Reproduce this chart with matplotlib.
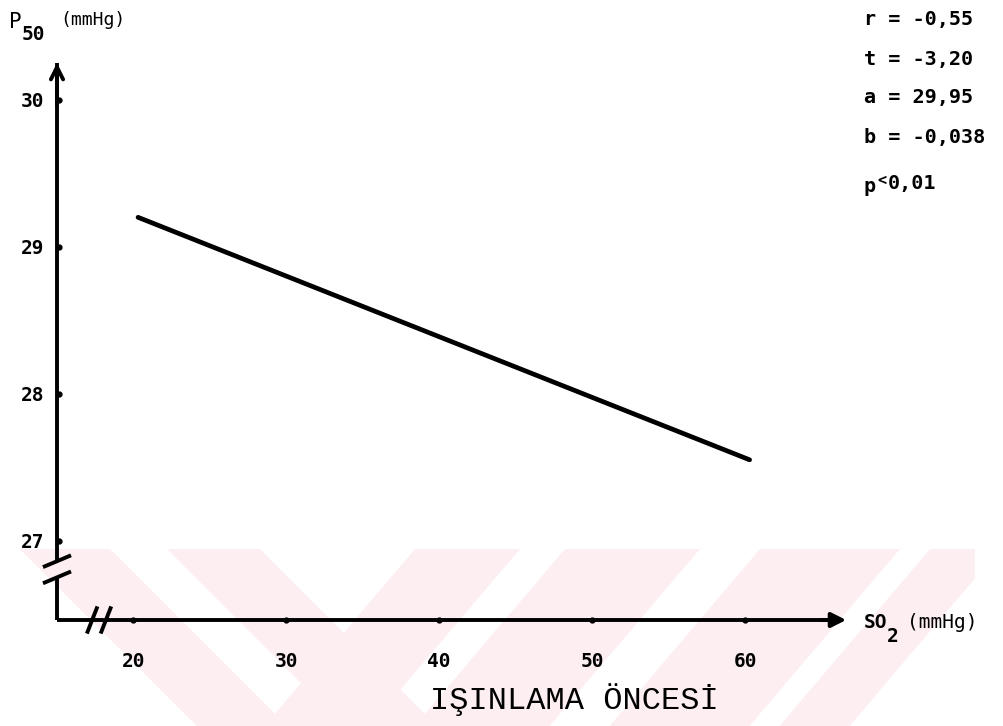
import matplotlib.pyplot as plt
from matplotlib.patches import Polygon, Rectangle

# regression line
so2 = [20.3, 60.3]
p50 = [29.2, 27.55]

xticks = [20, 30, 40, 50, 60]
yticks = [27, 28, 29, 30]

stats = ["r = -0,55", "t = -3,20", "a = 29,95", "b = -0,038"]
title = "IŞINLAMA ÖNCESİ"

W, H = 1004, 726
fig = plt.figure(figsize=(W / 100, H / 100), dpi=100)

# pale watermark stripes in the lower band (pixel coords -> figure)
pink = "#fdeef1"
clip = Rectangle((20 / W, 0), (975 - 20) / W, 1 - 549 / H,
                 transform=fig.transFigure, facecolor="none", edgecolor="none")
fig.add_artist(clip)
top, bot = 549, 726
hgt = bot - top
bands = [((20, 110), 1.0), ((167, 260), 1.0),
         ((415, 520), -0.85), ((565, 700), -0.85), ((760, 900), -0.85), ((930, 1000), -0.85)]
for (x0, x1), s in bands:
    pts = [(x0, top), (x1, top), (x1 + s * hgt, bot), (x0 + s * hgt, bot)]
    poly = Polygon([(px / W, 1 - py / H) for px, py in pts], closed=True,
                   transform=fig.transFigure, facecolor=pink, edgecolor="none", zorder=0)
    fig.add_artist(poly)
    poly.set_clip_path(clip)

ax = fig.add_axes([57 / W, 1 - 620 / H, (849 - 57) / W, (620 - 63) / H])
ax.set_facecolor("none")
x0, x1 = 15.0, 66.8
y0, y1 = 26.46, 30.25
ax.set_xlim(x0, x1)
ax.set_ylim(y0, y1)
for sp in ax.spines.values():
    sp.set_visible(False)

mono = "DejaVu Sans Mono"
ax.set_xticks(xticks)
ax.set_xticklabels([str(v) for v in xticks], family=mono, fontsize=14, fontweight="bold")
ax.set_yticks(yticks)
ax.set_yticklabels([str(v) for v in yticks], family=mono, fontsize=14, fontweight="bold")
ax.tick_params(axis="x", length=0, pad=23)
ax.tick_params(axis="y", length=0, pad=9)

lw = 2.8
# y axis with a break
ax.plot([x0, x0], [y0, 26.75], color="black", lw=lw, clip_on=False, solid_capstyle="butt")
ax.plot([x0, x0], [26.86, y1], color="black", lw=lw, clip_on=False, solid_capstyle="butt")
ax.annotate("", xy=(x0, y1 + 0.02), xytext=(x0, y1 - 0.3),
            arrowprops=dict(arrowstyle="->", lw=lw, mutation_scale=22, color="black"),
            annotation_clip=False)
for yb in (26.75, 26.86):
    ax.plot([x0 - 0.8, x0 + 0.8], [yb - 0.035, yb + 0.035], color="black", lw=lw, clip_on=False)

# x axis with a break
ax.plot([x0, x1 - 1.0], [y0, y0], color="black", lw=lw, clip_on=False, solid_capstyle="butt")
ax.annotate("", xy=(x1, y0), xytext=(x1 - 2, y0),
            arrowprops=dict(arrowstyle="-|>", lw=lw, mutation_scale=22, color="black"),
            annotation_clip=False)
for xb in (17.3, 18.2):
    ax.plot([xb - 0.3, xb + 0.3], [y0 - 0.08, y0 + 0.08], color="black", lw=lw, clip_on=False)

# little tick dots
ax.plot(xticks, [y0] * len(xticks), "o", color="black", ms=3.5, clip_on=False)
ax.plot([x0 + 0.15] * len(yticks), yticks, "o", color="black", ms=3.5, clip_on=False)

ax.plot(so2, p50, color="black", lw=3.4, solid_capstyle="round")

# axis titles
fig.text(9 / W, 1 - 22 / H, "P", family=mono, fontsize=15, va="center")
fig.text(22 / W, 1 - 35 / H, "50", family=mono, fontsize=14, fontweight="bold", va="center")
fig.text(60 / W, 1 - 20 / H, "(mmHg)", family=mono, fontsize=13, va="center")
fig.text(864 / W, 1 - 622 / H, "SO", family=mono, fontsize=14, fontweight="bold", va="center")
fig.text(887 / W, 1 - 636 / H, "2", family=mono, fontsize=14, fontweight="bold", va="center")
fig.text(907 / W, 1 - 622 / H, "(mmHg)", family=mono, fontsize=14, va="center")

# regression statistics
for i, s in enumerate(stats):
    fig.text(864 / W, 1 - (20 + 39 * i) / H, s, family=mono, fontsize=14.5,
             fontweight="bold", va="center")
fig.text(864 / W, 1 - 186 / H, "p", family=mono, fontsize=14.5, fontweight="bold", va="center")
fig.text(877 / W, 1 - 180 / H, "<", family=mono, fontsize=11, fontweight="bold", va="center")
fig.text(888 / W, 1 - 184 / H, "0,01", family=mono, fontsize=14.5, fontweight="bold", va="center")

fig.text(574 / W, 1 - 700 / H, title, family="Liberation Mono", fontsize=23,
         ha="center", va="center")

fig.savefig("out.png", dpi=100)
